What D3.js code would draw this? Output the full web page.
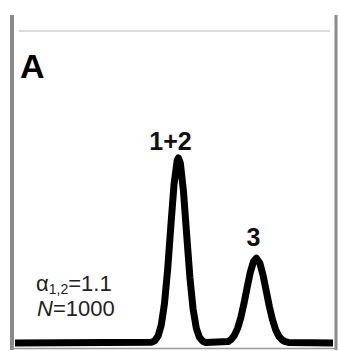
<!DOCTYPE html>
<html><head><meta charset="utf-8">
<script src="https://cdn.jsdelivr.net/npm/d3@7"></script>
<style>html,body{margin:0;padding:0;background:#fff;}svg{display:block;}</style>
</head><body>
<svg id="c" width="339" height="351"></svg>
<script>
// retention time (min) and detector signal (% of max)
const times  = [0, 4.3, 4.4, 4.5, 4.6, 4.7, 4.8, 4.9, 5.0, 5.1, 5.14, 5.2, 5.3, 5.4, 5.5, 5.6, 5.7, 5.8, 5.9, 6.0,
                6.7, 6.8, 6.9, 7.0, 7.1, 7.2, 7.3, 7.4, 7.5, 7.59, 7.7, 7.8, 7.9, 8.0, 8.1, 8.2, 8.3, 8.4, 8.5, 8.6, 10];
const signal = [0, 0.4, 1.3, 3.8, 9.7, 21.2, 39.7, 63.1, 85.5, 98.7, 100, 97.2, 81.5, 58.2, 35.5, 18.4, 8.1, 3.1, 1.0, 0.3,
                0.8, 2.0, 4.2, 7.9, 13.6, 21.3, 30.0, 38.2, 44.0, 45.8, 43.1, 36.7, 28.2, 19.6, 12.4, 7.0, 3.6, 1.7, 0.7, 0.3, 0];
const peakLabels = ["1+2", "3"];
const peakTimes  = [5.14, 7.59];
const peakHeights = [100, 45.8];
const panelLabel = "A";

const svg = d3.select("#c");
const x = d3.scaleLinear().domain([0, 10]).range([15, 333]);
const y = d3.scaleLinear().domain([0, 100]).range([343, 158]);

// frame
svg.append("line").attr("x1", 19).attr("x2", 330).attr("y1", 31).attr("y2", 31)
  .attr("stroke", "#cfcfcf").attr("stroke-width", 1.6);
svg.append("line").attr("x1", 12).attr("x2", 12).attr("y1", 15).attr("y2", 350)
  .attr("stroke", "#8a8a8a").attr("stroke-width", 4);
svg.append("line").attr("x1", 336).attr("x2", 336).attr("y1", 15).attr("y2", 350)
  .attr("stroke", "#8a8a8a").attr("stroke-width", 3);
svg.append("line").attr("x1", 12).attr("x2", 336).attr("y1", 348.5).attr("y2", 348.5)
  .attr("stroke", "#9a9a9a").attr("stroke-width", 1.5);

// trace
const line = d3.line().x((d, i) => x(times[i])).y(d => y(d));
svg.append("path").datum(signal).attr("d", line)
  .attr("fill", "none").attr("stroke", "#000").attr("stroke-width", 7)
  .attr("stroke-linejoin", "round");

// panel label
svg.append("text").attr("x", 20).attr("y", 78).text(panelLabel)
  .attr("font-family", "Liberation Sans, Arial, sans-serif").attr("font-weight", "bold")
  .attr("font-size", 34).attr("fill", "#000");

// peak labels
const labelDx = [-8, -3];
const labelDy = [-8, -12.5];
svg.selectAll("text.pk").data(peakLabels).enter().append("text").attr("class", "pk")
  .attr("x", (d, i) => x(peakTimes[i]) + labelDx[i])
  .attr("y", (d, i) => y(peakHeights[i]) + labelDy[i])
  .attr("text-anchor", "middle")
  .attr("font-family", "Liberation Sans, Arial, sans-serif").attr("font-weight", "bold")
  .attr("font-size", 25).attr("fill", "#111").text(d => d);

// annotation
const ann = svg.append("g").attr("font-family", "Liberation Sans, Arial, sans-serif")
  .attr("font-size", 22).attr("fill", "#222");
const t1 = ann.append("text").attr("x", 36).attr("y", 291);
t1.append("tspan").text("α");
t1.append("tspan").attr("font-size", 14).attr("dy", 3).text("1,2");
t1.append("tspan").attr("dy", -3).text("=1.1");
const t2 = ann.append("text").attr("x", 37).attr("y", 316);
t2.append("tspan").attr("font-style", "italic").text("N");
t2.append("tspan").text("=1000");
</script>
</body></html>
